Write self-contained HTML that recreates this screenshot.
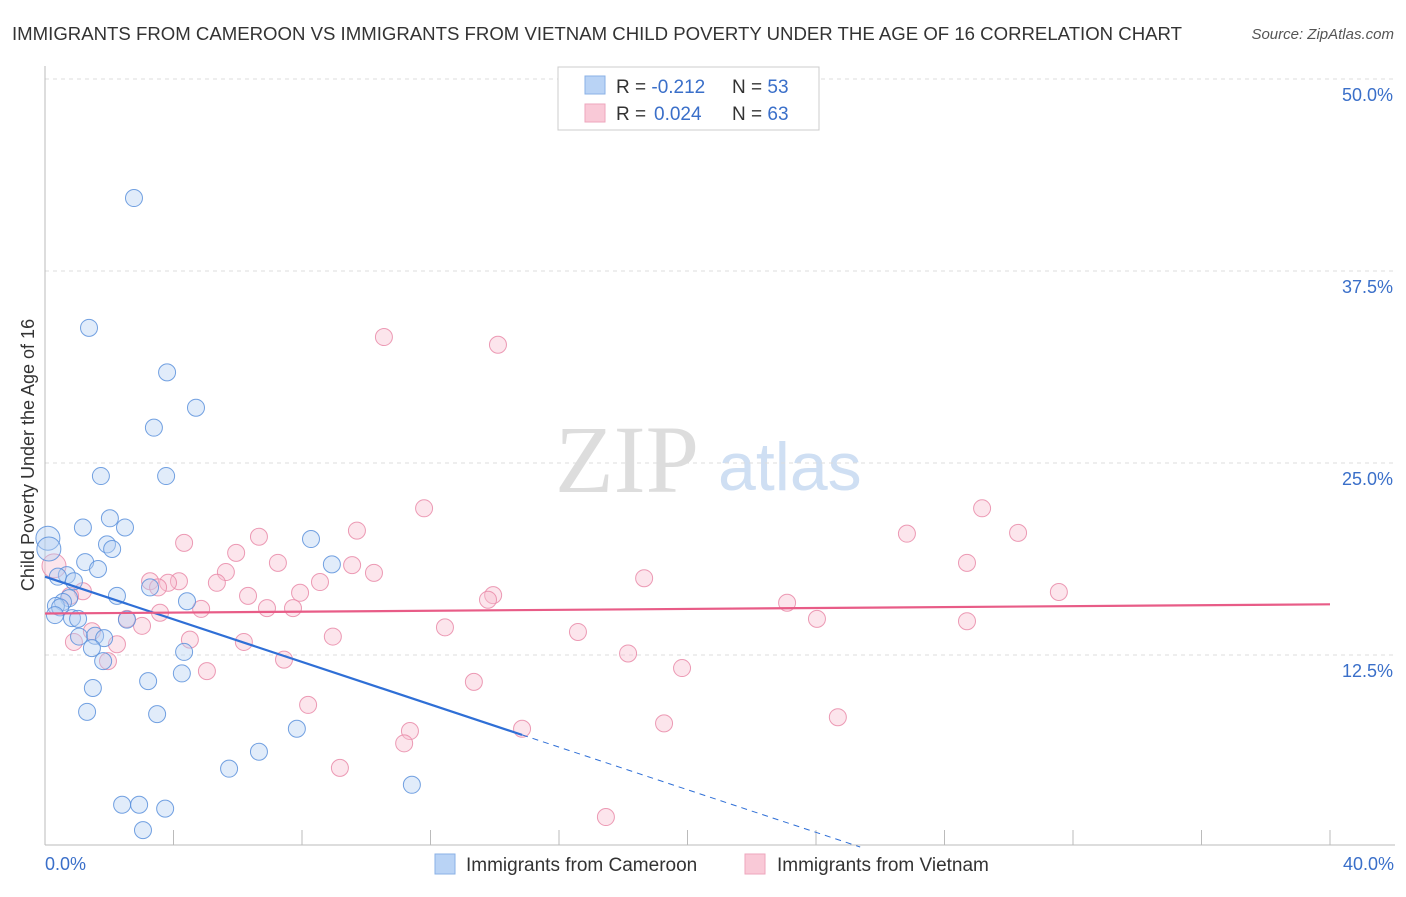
<!DOCTYPE html>
<html><head><meta charset="utf-8"><style>
body{margin:0;background:#fff;font-family:"Liberation Sans",sans-serif}
svg text{font-family:"Liberation Sans",sans-serif}
</style></head><body>
<svg id="c" width="1406" height="892">
<text x="12" y="40" font-size="18" fill="#333" textLength="1170" lengthAdjust="spacingAndGlyphs">IMMIGRANTS FROM CAMEROON VS IMMIGRANTS FROM VIETNAM CHILD POVERTY UNDER THE AGE OF 16 CORRELATION CHART</text>
<text x="1394" y="39" font-size="15" fill="#555" font-style="italic" text-anchor="end">Source: ZipAtlas.com</text>
<text x="555" y="492" font-size="96" fill="#ddd" style="font-family:'Liberation Serif',serif">ZIP</text>
<text x="718" y="490" font-size="68" fill="#cfdff3">atlas</text>
<g id="grid"></g><g id="marks"></g>
<text transform="translate(34,455) rotate(-90)" font-size="18" fill="#333" text-anchor="middle">Child Poverty Under the Age of 16</text>
<text x="45" y="870" font-size="18" fill="#3a6fc9">0.0%</text>
<text x="1394" y="870" font-size="18" fill="#3a6fc9" text-anchor="end">40.0%</text>
<g>
<rect x="558" y="67" width="261" height="63" fill="#fff" stroke="#ccc"/>
<rect x="585" y="76" width="20" height="18" fill="#b9d3f5" stroke="#8ab0e6"/>
<rect x="585" y="104" width="20" height="18" fill="#f9c9d7" stroke="#eea6bc"/>
<text x="616" y="93" font-size="19" fill="#333">R = <tspan fill="#3a6fc9">-0.212</tspan><tspan x="732">N = </tspan><tspan fill="#3a6fc9">53</tspan></text>
<text x="616" y="120" font-size="19" fill="#333">R = <tspan fill="#3a6fc9" x="654">0.024</tspan><tspan x="732">N = </tspan><tspan fill="#3a6fc9">63</tspan></text>
</g>
<g>
<rect x="435" y="854" width="20" height="20" fill="#b9d3f5" stroke="#8ab0e6"/>
<text x="466" y="871" font-size="19" fill="#333">Immigrants from Cameroon</text>
<rect x="745" y="854" width="20" height="20" fill="#f9c9d7" stroke="#eea6bc"/>
<text x="777" y="871" font-size="19" fill="#333">Immigrants from Vietnam</text>
</g>
</svg>
<script>
const yTicks=[12.5,25,37.5,50];
const yTickLabels=["12.5%","25.0%","37.5%","50.0%"];
const xTicks=[0,4,8,12,16,20,24,28,32,36,40];
const cameroonX=[2.77,1.37,3.8,4.7,3.39,1.74,3.77,2.02,1.18,2.49,0.09,0.12,1.93,2.09,8.28,1.25,1.65,0.68,0.4,0.9,8.93,3.27,2.24,0.75,4.42,0.56,0.34,0.47,0.31,0.84,1.03,2.55,1.06,1.56,1.84,1.46,4.33,1.81,1.49,3.21,4.26,1.31,3.49,7.84,6.66,5.73,11.42,2.4,2.93,3.74,3.05];
const cameroonY=[42.25,33.8,30.9,28.6,27.3,24.15,24.15,21.4,20.8,20.8,20.1,19.4,19.7,19.4,20.05,18.55,18.1,17.7,17.6,17.3,18.4,16.9,16.35,16.2,16.0,15.95,15.7,15.6,15.1,14.9,14.85,14.8,13.7,13.75,13.6,12.95,12.7,12.1,10.35,10.8,11.3,8.8,8.65,7.7,6.2,5.1,4.05,2.75,2.75,2.5,1.1];
const vietnamX=[10.55,14.1,11.8,29.17,9.71,6.66,26.83,30.29,4.33,5.95,28.7,7.25,9.56,0.28,5.63,10.24,18.65,4.17,3.27,3.83,8.56,5.35,1.18,3.52,7.94,6.32,13.95,13.79,31.56,0.78,4.86,3.58,7.72,6.91,23.1,2.55,3.02,24.03,28.7,12.45,8.96,16.59,1.46,4.51,6.19,0.9,2.24,18.15,7.44,1.96,5.04,19.83,13.35,8.19,19.27,24.68,11.36,11.18,14.85,9.18,17.46];
const vietnamY=[33.2,32.7,22.05,22.05,20.6,20.2,20.4,20.45,19.8,19.15,18.5,18.5,18.35,18.3,17.9,17.85,17.5,17.3,17.3,17.2,17.25,17.2,16.65,16.9,16.55,16.35,16.4,16.1,16.6,16.35,15.5,15.25,15.55,15.55,15.9,14.85,14.4,14.85,14.7,14.3,13.7,14.0,14.05,13.5,13.35,13.35,13.2,12.6,12.2,12.1,11.45,11.65,10.75,9.25,8.05,8.45,7.55,6.75,7.7,5.15,1.95];
const cameroonTrend=[17.6,7.3];const cameroonTrendX=[0,14.85];
const vietnamTrend=[15.2,15.8];const vietnamTrendX=[0,40];
const NS="http://www.w3.org/2000/svg";
const X=v=>45+v*32.125, Y=v=>847-v*15.36;
function mk(t,a,p){const e=document.createElementNS(NS,t);for(const k in a)e.setAttribute(k,a[k]);p.appendChild(e);return e;}
const g=document.getElementById('grid'),m=document.getElementById('marks');
yTicks.forEach((t,i)=>{
 const l=mk('line',{x1:45,x2:1395,y1:Y(t),y2:Y(t),stroke:'#ddd','stroke-dasharray':'4,4'},g);
 
 
 const tx=mk('text',{x:1393,y:Y(t)+22,'font-size':18,fill:'#3a6fc9','text-anchor':'end'},g);tx.textContent=yTickLabels[i];
 
 
});
const ya=mk('line',{x1:45,x2:45,y1:66,y2:845,stroke:'#bbb'},g);


const xa=mk('line',{x1:45,x2:1395,y1:845,y2:845,stroke:'#bbb'},g);


xTicks.forEach(t=>{const l=mk('line',{x1:X(t),x2:X(t),y1:830,y2:845,stroke:'#bbb'},g);
 
 });
function pts(xs,ys,fill,stroke,name){xs.forEach((x,i)=>{const c=mk('circle',{cx:X(x),cy:Y(ys[i]),r:(x<0.3&&ys[i]>18)?12:8.5,fill:fill,stroke:stroke,'stroke-width':1,'fill-opacity':0.4,'stroke-opacity':0.85},m);
 
 });}
pts(vietnamX,vietnamY,'#f7bfd0','#e98aa8','vietnam-point');
pts(cameroonX,cameroonY,'#b3cff3','#5b91dc','cameroon-point');
const slope=(cameroonTrend[1]-cameroonTrend[0])/(cameroonTrendX[1]-cameroonTrendX[0]);
const x0=-cameroonTrend[0]/slope;
const bd=mk('line',{x1:X(cameroonTrendX[1]),y1:Y(cameroonTrend[1]),x2:X(x0),y2:Y(0),stroke:'#2f6fd6','stroke-width':1,'stroke-dasharray':'6,5'},m);


const bl=mk('line',{x1:X(cameroonTrendX[0]),y1:Y(cameroonTrend[0]),x2:X(cameroonTrendX[1]),y2:Y(cameroonTrend[1]),stroke:'#2f6fd6','stroke-width':2.2},m);


const pl=mk('line',{x1:X(vietnamTrendX[0]),y1:Y(vietnamTrend[0]),x2:X(vietnamTrendX[1]),y2:Y(vietnamTrend[1]),stroke:'#e85c87','stroke-width':2.2},m);


</script>
</body></html>
